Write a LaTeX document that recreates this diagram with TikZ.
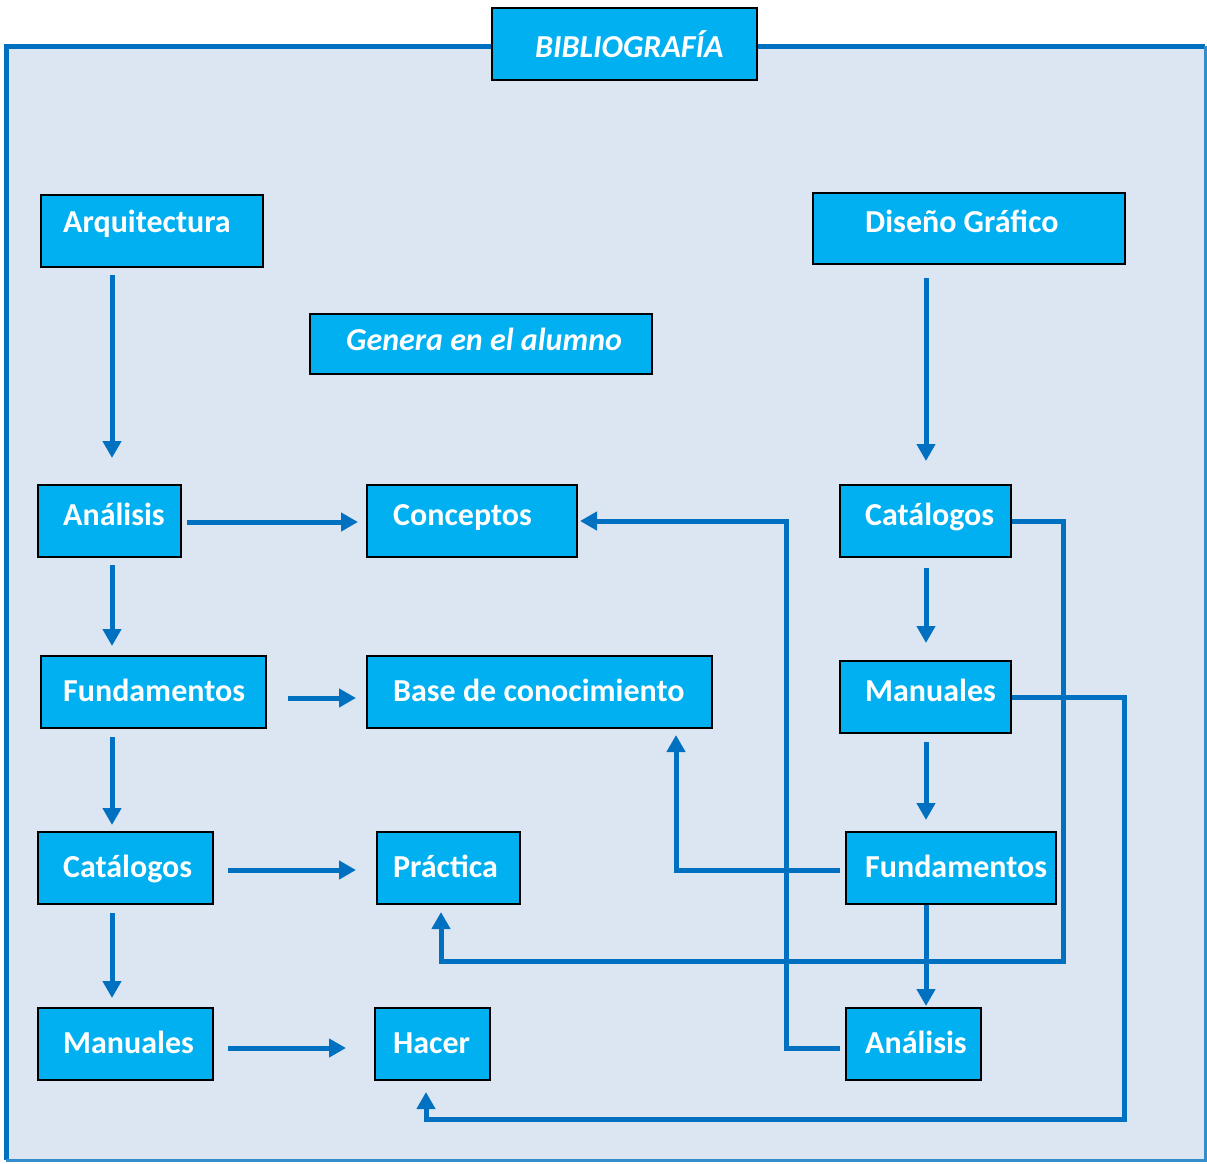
\documentclass[tikz,border=0pt]{standalone}
\usepackage{fontspec}
\setmainfont{Carlito}
\usetikzlibrary{arrows.meta}
\definecolor{bgc}{HTML}{DCE6F2}
\definecolor{boxc}{HTML}{00B0F0}
\definecolor{arrc}{HTML}{0070C0}
\tikzset{
  bx/.style={draw=black, fill=boxc, line width=2pt, inner sep=0pt, anchor=north west, rectangle},
  txt/.style={text=white, font=\fontsize{32}{36}\selectfont\bfseries, inner sep=0pt, anchor=base west},
  itxt/.style={txt, font=\fontsize{32}{36}\selectfont\bfseries\itshape},
  arr/.style={draw=arrc, line width=5pt, line join=miter, -{Triangle[length=17pt,width=18pt]}},
}
\begin{document}
\begin{tikzpicture}[x=1pt,y=-1pt]
\useasboundingbox (0,0) rectangle (1207,1163);
% frame
\fill[bgc] (6,46) rectangle (1205,1160);
\draw[arrc, line width=5pt] (6,1160) -- (6,46) -- (1205,46);
\draw[arrc!80, line width=3pt] (1205,46) -- (1205,1160) -- (6,1160);
% title
\node[bx, minimum width=265pt, minimum height=72pt] (bib) at (491,7) {};
\node[itxt] (bibT) at (535,57) {BIBLIOGRAFÍA};
% left column
\node[bx, minimum width=222pt, minimum height=72pt] (arq) at (40,194) {};
\node[txt] (arqT) at (63,232) {Arquitectura};
\node[bx, minimum width=143pt, minimum height=72pt] (anaL) at (37,484) {};
\node[txt] (anaLT) at (63,525) {Análisis};
\node[bx, minimum width=225pt, minimum height=72pt] (funL) at (40,655) {};
\node[txt] (funLT) at (63,701) {Fundamentos};
\node[bx, minimum width=175pt, minimum height=72pt] (catL) at (37,831) {};
\node[txt] (catLT) at (63,877) {Catálogos};
\node[bx, minimum width=175pt, minimum height=72pt] (manL) at (37,1007) {};
\node[txt] (manLT) at (63,1053) {Manuales};
% middle column
\node[bx, minimum width=342pt, minimum height=60pt] (gen) at (309,313) {};
\node[itxt] (genT) at (346,350) {Genera en el alumno};
\node[bx, minimum width=210pt, minimum height=72pt] (con) at (366,484) {};
\node[txt] (conT) at (393,525) {Conceptos};
\node[bx, minimum width=345pt, minimum height=72pt] (base) at (366,655) {};
\node[txt] (baseT) at (393,701) {Base de conocimiento};
\node[bx, minimum width=143pt, minimum height=72pt] (pra) at (376,831) {};
\node[txt] (praT) at (393,877) {Práctica};
\node[bx, minimum width=115pt, minimum height=72pt] (hac) at (374,1007) {};
\node[txt] (hacT) at (393,1053) {Hacer};
% right column
\node[bx, minimum width=312pt, minimum height=71pt] (dis) at (812,192) {};
\node[txt] (disT) at (865,232) {Diseño Gráfico};
\node[bx, minimum width=171pt, minimum height=72pt] (catR) at (839,484) {};
\node[txt] (catRT) at (865,525) {Catálogos};
\node[bx, minimum width=171pt, minimum height=72pt] (manR) at (839,660) {};
\node[txt] (manRT) at (865,701) {Manuales};
\node[bx, minimum width=210pt, minimum height=72pt] (funR) at (845,831) {};
\node[txt] (funRT) at (865,877) {Fundamentos};
\node[bx, minimum width=135pt, minimum height=72pt] (anaR) at (845,1007) {};
\node[txt] (anaRT) at (865,1053) {Análisis};
% left vertical arrows
\draw[arr, shorten <=7pt, shorten >=26pt] ([xshift=72pt]arq.south west) -- ([xshift=75pt]anaL.north west);
\draw[arr, shorten <=7pt, shorten >=9pt] ([xshift=75pt]anaL.south west) -- ([xshift=72pt]funL.north west);
\draw[arr, shorten <=8pt, shorten >=6pt] ([xshift=72pt]funL.south west) -- ([xshift=75pt]catL.north west);
\draw[arr, shorten <=8pt, shorten >=9pt] ([xshift=75pt]catL.south west) -- ([xshift=75pt]manL.north west);
% left horizontal arrows
\draw[arr, shorten <=5pt, shorten >=8pt] ([yshift=-1pt]anaL.east) -- ([yshift=-1pt]con.west);
\draw[arr, shorten <=21pt, shorten >=10pt] ([yshift=-6pt]funL.east) -- ([yshift=-6pt]base.west);
\draw[arr, shorten <=14pt, shorten >=20pt] ([yshift=-2pt]catL.east) -- ([yshift=-2pt]pra.west);
\draw[arr, shorten <=14pt, shorten >=28pt] ([yshift=-4pt]manL.east) -- ([yshift=-4pt]hac.west);
% right vertical arrows
\draw[arr, shorten <=13pt, shorten >=23pt] ([xshift=114pt]dis.south west) -- ([xshift=87pt]catR.north west);
\draw[arr, shorten <=10pt, shorten >=17pt] ([xshift=87pt]catR.south west) -- ([xshift=87pt]manR.north west);
\draw[arr, shorten <=8pt, shorten >=11pt] ([xshift=87pt]manR.south west) -- ([xshift=81pt]funR.north west);
\draw[arr, shorten >=1pt] ([xshift=81pt]funR.south west) -- ([xshift=81pt]anaR.north west);
% long connectors
\draw[arr, shorten >=7pt] (catR.east) -| (1063,961) -| ([xshift=65pt]pra.south west);
\draw[arr, shorten >=11pt] (manR.east) -| (1124,1119) -| ([xshift=52pt]hac.south west);
\draw[arr, shorten <=5pt, shorten >=2pt] ([yshift=-4pt]anaR.west) -| (786,521) -- (con.east);
\draw[arr, shorten <=5pt, shorten >=6pt] ([yshift=-2pt]funR.west) -| ([xshift=310pt]base.south west);
\end{tikzpicture}
\end{document}
